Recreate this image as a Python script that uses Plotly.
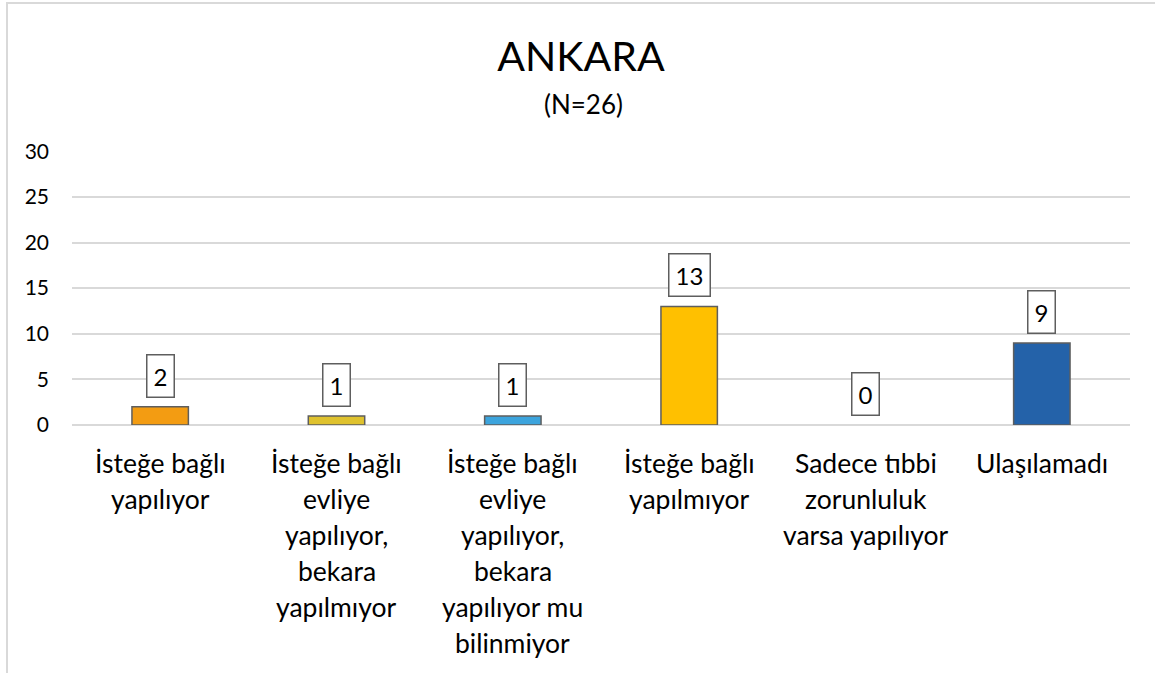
import plotly.graph_objects as go

# ---- data ----
categories = [
    "İsteğe bağlı\nyapılıyor",
    "İsteğe bağlı\nevliye\nyapılıyor,\nbekara\nyapılmıyor",
    "İsteğe bağlı\nevliye\nyapılıyor,\nbekara\nyapılıyor mu\nbilinmiyor",
    "İsteğe bağlı\nyapılmıyor",
    "Sadece tıbbi\nzorunluluk\nvarsa yapılıyor",
    "Ulaşılamadı",
]
values = [2, 1, 1, 13, 0, 9]
bar_colors = ["#F39C12", "#DFC22E", "#3CA4DD", "#FFC000", "#A5A5A5", "#2462A9"]
title_text = "ANKARA"
subtitle_text = "(N=26)"
y_ticks = [0, 5, 10, 15, 20, 25, 30]

FONT = "Lato"
W, H = 1155, 673
ML, MR, MT, MB = 72, 25, 151, 248

x_ids = list(range(len(categories)))

pw = W - ML - MR
ph = H - MT - MB
def px_x(p):
    return (p - ML) / pw
def px_y(p):
    return (H - MB - p) / ph

fig = go.Figure()
fig.add_trace(go.Bar(
    x=x_ids, y=values,
    marker=dict(color=bar_colors,
                line=dict(color="#5E5E5E", width=[1.5 if v else 0 for v in values])),
    width=0.32,
    hoverinfo="skip",
))

annotations = []
# boxed value labels
for xi, v in zip(x_ids, values):
    annotations.append(dict(
        x=xi, y=v, xref="x", yref="y", text=str(v), showarrow=False,
        yanchor="bottom", yshift=9,
        font=dict(family=FONT, size=24, color="#000000"),
        bordercolor="#5E5E5E", borderwidth=1.5, borderpad=6, bgcolor="#FFFFFF",
    ))
# category labels (one annotation per line, Excel-like line spacing)
for xi, cat in zip(x_ids, categories):
    for i, line in enumerate(cat.split("\n")):
        annotations.append(dict(
            x=xi, y=0, xref="x", yref="paper", text=line, showarrow=False,
            yanchor="middle", yshift=-(38 + 36 * i),
            font=dict(family=FONT, size=26.5, color="#000000"),
        ))
# subtitle
annotations.append(dict(
    x=px_x(583), y=px_y(104), xref="paper", yref="paper", text=subtitle_text,
    showarrow=False, xanchor="center", yanchor="middle",
    font=dict(family=FONT, size=26, color="#000000"),
))

fig.update_layout(
    width=W, height=H,
    margin=dict(l=ML, r=MR, t=MT, b=MB, pad=0),
    paper_bgcolor="white", plot_bgcolor="white",
    showlegend=False,
    title=dict(text=title_text, x=581 / W, xanchor="center", y=1 - 57 / H,
               yanchor="middle", font=dict(family=FONT, size=41, color="#000000")),
    xaxis=dict(range=[-0.5, len(categories) - 0.5], showticklabels=False,
               showgrid=False, zeroline=False, showline=False, ticks=""),
    yaxis=dict(range=[0, 30.03], tickvals=y_ticks, showgrid=True, gridcolor="#D9D9D9",
               gridwidth=1.5, zeroline=True, zerolinecolor="#D9D9D9", zerolinewidth=1.5,
               showline=False, ticks="", ticklabelstandoff=22,
               tickfont=dict(family=FONT, size=21, color="#000000")),
    annotations=annotations,
    shapes=[dict(type="rect", xref="paper", yref="paper",
                 x0=px_x(7), x1=px_x(1175), y0=px_y(700), y1=px_y(3),
                 line=dict(color="#D9D9D9", width=2), layer="below")],
)

fig.write_html("out.html", config={"displayModeBar": False},
               post_script="document.body.style.margin='0';")
